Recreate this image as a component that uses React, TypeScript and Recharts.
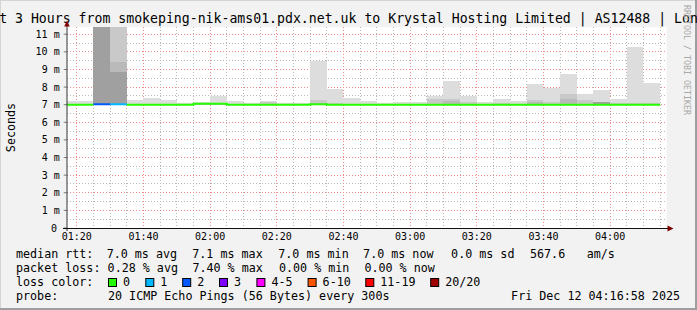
import React from "react";
import {
  ComposedChart,
  Area,
  Line,
  XAxis,
  YAxis,
} from "recharts";

// ---------------------------------------------------------------------------
// Data (5 minute steps, values in ms)
// ---------------------------------------------------------------------------

const rangeStart = "01:16:58";
const rangeEnd = "04:16:58";

const slotTimes = [
  "01:15", "01:20", "01:25", "01:30", "01:35", "01:40", "01:45", "01:50", "01:55",
  "02:00", "02:05", "02:10", "02:15", "02:20", "02:25", "02:30", "02:35", "02:40",
  "02:45", "02:50", "02:55", "03:00", "03:05", "03:10", "03:15", "03:20", "03:25",
  "03:30", "03:35", "03:40", "03:45", "03:50", "03:55", "04:00", "04:05", "04:10",
];
const slotEnd = "04:15";

// lowest ping of each step
const smokeMin = [
  6.97, 6.97, 6.97, 6.97, 6.97, 6.97, 6.97, 6.97, 6.99, 6.99, 6.97, 6.97,
  6.97, 6.97, 6.97, 6.97, 6.97, 6.97, 6.97, 6.97, 6.97, 6.97, 6.97, 6.97,
  6.97, 6.97, 6.97, 6.97, 6.97, 6.97, 6.97, 6.97, 6.97, 6.97, 6.97, 6.97,
];
// highest ping of each step (outer smoke)
const smokeOuter = [
  7.21, 7.21, 15, 14, 7.27, 7.36, 7.29, 7.11, 7.15, 7.5, 7.19, 7.07,
  7.19, 7.1, 7.1, 9.5, 7.89, 7.38, 7.21, 7.1, 7.14, 7.17, 7.5, 8.37,
  7.5, 7.15, 7.33, 7.21, 8.18, 7.97, 8.76, 7.6, 7.85, 7.34, 10.3, 8.25,
];
const smokeUpper = [
  7.05, 7.05, 15, 14, 7.05, 7.06, 7.05, 7.03, 7.08, 7.1, 7.05, 7.03,
  7.13, 7.06, 7.05, 7.27, 7.1, 7.06, 7.05, 7.03, 7.05, 7.06, 7.33, 7.33,
  7.15, 7.05, 7.08, 7.06, 7.27, 7.15, 7.6, 7.27, 7.17, 7.08, 7.12, 7.1,
];
const smokeInner = [
  7.02, 7.02, 15, 9.44, 7.02, 7.02, 7.02, 7.02, 7.06, 7.06, 7.02, 7.02,
  7.02, 7.02, 7.02, 7.12, 7.02, 7.02, 7.02, 7.02, 7.02, 7.02, 7.02, 7.2,
  7.02, 7.02, 7.02, 7.02, 7.15, 7.02, 7.3, 7.02, 7.17, 7.02, 7.02, 7.02,
];
const smokeCore = [
  7.0, 7.0, 15, 8.88, 7.0, 7.0, 7.0, 7.0, 7.0, 7.0, 7.0, 7.0,
  7.0, 7.0, 7.0, 7.0, 7.0, 7.0, 7.0, 7.0, 7.0, 7.0, 7.0, 7.0,
  7.0, 7.0, 7.0, 7.0, 7.0, 7.0, 7.0, 7.0, 7.14, 7.0, 7.0, 7.0,
];
const medianRtt = [
  7.0, 7.0, 7.03, 7.03, 7.0, 7.0, 7.0, 7.0, 7.06, 7.06, 7.0, 7.0,
  7.0, 7.0, 7.0, 7.02, 7.0, 7.0, 7.0, 7.0, 7.0, 7.0, 7.0, 7.0,
  7.0, 7.0, 7.0, 7.0, 7.0, 7.0, 7.0, 7.0, 7.0, 7.0, 7.0, 7.0,
];
const lossCount = [
  0, 0, 2, 1, 0, 0, 0, 0, 0, 0, 0, 0,
  0, 0, 0, 0, 0, 0, 0, 0, 0, 0, 0, 0,
  0, 0, 0, 0, 0, 0, 0, 0, 0, 0, 0, 0,
];

const xTickTimes = ["01:20", "01:40", "02:00", "02:20", "02:40", "03:00", "03:20", "03:40", "04:00"];
const minorGridTimes = [
  "01:25", "01:30", "01:35", "01:45", "01:50", "01:55", "02:05", "02:10", "02:15",
  "02:25", "02:30", "02:35", "02:45", "02:50", "02:55", "03:05", "03:10", "03:15",
  "03:25", "03:30", "03:35", "03:45", "03:50", "03:55", "04:05", "04:10", "04:15",
];
const yTickValues = [0, 1, 2, 3, 4, 5, 6, 7, 8, 9, 10, 11];
const majorGridY = [1, 2, 3, 4, 5, 6, 7, 8, 9, 10, 11];
const minorGridY = [0.5, 1.5, 2.5, 3.5, 4.5, 5.5, 6.5, 7.5, 8.5, 9.5, 10.5];
const yMax = 11.41;

const lossLabels = ["0", "1", "2", "3", "4-5", "6-10", "11-19", "20/20"];
const lossUpper = [0, 1, 2, 3, 5, 10, 19, 20];
const lossColors = ["#26ff00", "#00b8ff", "#0059ff", "#7e00ff", "#ff00ff", "#ff5500", "#ff0000", "#a10000"];

// ---------------------------------------------------------------------------
// Layout
// ---------------------------------------------------------------------------

const W = 697;
const H = 310;
const PLOT = { left: 66.7, top: 27, right: 666.7, bottom: 228 };
const BG = "#f2f2f2";
const MONO = "'DejaVu Sans Mono', monospace";
const MINOR_GRID = "#b8b8b8";
const MAJOR_GRID = "#ee8c8c";

const toMin = (s: string) => {
  const [h, m, sec] = s.split(":").map(Number);
  return h * 60 + m + (sec || 0) / 60;
};

const lossBucket = (n: number) => lossUpper.findIndex((u) => n <= u);

const T0 = toMin(rangeStart);
const T1 = toMin(rangeEnd);

// grid positions follow the same linear mapping as the chart axes
const gridX = (t: number) =>
  Math.floor(PLOT.left + ((t - T0) / (T1 - T0)) * (PLOT.right - PLOT.left)) + 0.5;
const gridY = (v: number) =>
  Math.floor(PLOT.bottom - (v / yMax) * (PLOT.bottom - PLOT.top)) + 0.5;

// ---------------------------------------------------------------------------
// Table for recharts
// ---------------------------------------------------------------------------

type Row = Record<string, number | number[] | null>;

const n = slotTimes.length;
const rows: Row[] = [...slotTimes, slotEnd].map((s, r) => {
  const i = Math.min(r, n - 1);
  const row: Row = {
    t: toMin(s),
    outer: [smokeMin[i], smokeOuter[i]],
    upper: [smokeMin[i], smokeUpper[i]],
    inner: [smokeMin[i], smokeInner[i]],
    core: [smokeMin[i], smokeCore[i]],
  };
  lossColors.forEach((_, b) => {
    let v: number | null = null;
    if (r < n && lossBucket(lossCount[r]) === b) v = medianRtt[r];
    else if (r > 0 && lossBucket(lossCount[r - 1]) === b) v = medianRtt[r - 1];
    row[`m${b}`] = v;
  });
  return row;
});

const usedBuckets = lossColors
  .map((_, b) => b)
  .filter((b) => lossCount.some((c) => lossBucket(c) === b));

const smokeLayers = [
  { key: "outer", color: "#dddddd" },
  { key: "upper", color: "#c9c9c9" },
  { key: "inner", color: "#bababa" },
  { key: "core", color: "#a0a0a0" },
];

// ---------------------------------------------------------------------------
// Ticks
// ---------------------------------------------------------------------------

function YTick({ x, y, payload }: { x?: number; y?: number; payload?: { value: number } }) {
  if (x === undefined || y === undefined || !payload) return null;
  const v = payload.value;
  return (
    <text
      x={v === 0 ? x - 2.6 : x}
      y={y}
      dy="0.355em"
      textAnchor="end"
      fontFamily={MONO}
      fontSize={10}
      fill="#000"
    >
      {v === 0 ? "0" : `${v} m`}
    </text>
  );
}

// ---------------------------------------------------------------------------
// Legend lines
// ---------------------------------------------------------------------------

const statsLine: [string, number][] = [
  ["median rtt:", 16],
  ["7.0 ms avg", 106.7],
  ["7.1 ms max", 192.3],
  ["7.0 ms min", 278.3],
  ["7.0 ms now", 363.1],
  ["0.0 ms sd", 451.1],
  ["567.6", 530],
  ["am/s", 586.7],
];
const lossLine: [string, number][] = [
  ["packet loss:", 16],
  ["0.28 % avg", 107.6],
  ["7.40 % max", 192.4],
  ["0.00 % min", 279],
  ["0.00 % now", 364.4],
];
const swatchX = [108, 145.3, 182.2, 219, 256.4, 307.6, 365.3, 430.2];

// canvas + dotted grid, under the chart
function Backdrop() {
  const hLine = (v: number, color: string) => (
    <line
      key={`h${v}`}
      x1={PLOT.left}
      x2={PLOT.right}
      y1={gridY(v)}
      y2={gridY(v)}
      stroke={color}
      strokeWidth={1}
      strokeDasharray="1 2"
      shapeRendering="crispEdges"
    />
  );
  const vLine = (t: number, color: string) => (
    <line
      key={`v${t}`}
      x1={gridX(t)}
      x2={gridX(t)}
      y1={PLOT.top}
      y2={PLOT.bottom}
      stroke={color}
      strokeWidth={1}
      strokeDasharray="1 2"
      shapeRendering="crispEdges"
    />
  );
  return (
    <svg width={W} height={H} style={{ position: "absolute", left: 0, top: 0 }}>
      <rect x={0} y={0} width={W} height={H} fill={BG} />
      <rect
        x={PLOT.left}
        y={PLOT.top}
        width={PLOT.right - PLOT.left}
        height={PLOT.bottom - PLOT.top}
        fill="#ffffff"
      />
      {minorGridY.map((v) => hLine(v, MINOR_GRID))}
      {minorGridTimes.map((s) => vLine(toMin(s), MINOR_GRID))}
      {majorGridY.map((v) => hLine(v, MAJOR_GRID))}
      {xTickTimes.map((s) => vLine(toMin(s), MAJOR_GRID))}
    </svg>
  );
}

function Overlay() {
  const legendFont = { fontFamily: MONO, fontSize: 11.7, fill: "#000" };
  return (
    <svg width={W} height={H} style={{ position: "absolute", left: 0, top: 0 }}>
      {/* frame */}
      <rect x={0} y={0} width={W} height={1} fill="#d4d4d4" />
      <rect x={0} y={0} width={1} height={H} fill="#d4d4d4" />
      <rect x={W - 2} y={0} width={2} height={H} fill="#9e9e9e" />
      <rect x={0} y={H - 2} width={W} height={2} fill="#9e9e9e" />

      {/* title */}
      <text x={W / 2} y={23} textAnchor="middle" fontFamily={MONO} fontSize={13.2} fill="#000">
        Last 3 Hours from smokeping-nik-ams01.pdx.net.uk to Krystal Hosting Limited | AS12488 | London
      </text>
      <text
        transform="translate(684,5) rotate(90)"
        fontFamily={MONO}
        fontSize={8.3}
        fill="#a8a8a8"
      >
        RRDTOOL / TOBI OETIKER
      </text>

      {/* vertical label */}
      <text
        transform={`translate(15,${(PLOT.top + PLOT.bottom) / 2}) rotate(-90)`}
        textAnchor="middle"
        fontFamily={MONO}
        fontSize={11.7}
        fill="#000"
      >
        Seconds
      </text>

      {/* axes with arrows */}
      <line x1={67} y1={PLOT.bottom + 3} x2={67} y2={22} stroke="#333" strokeWidth={1} />
      <line x1={63} y1={PLOT.bottom + 0.5} x2={670} y2={PLOT.bottom + 0.5} stroke="#111" strokeWidth={1} />
      <polygon points="64.2,26.5 69.7,26.5 67,20.5" fill="#7f0000" />
      <polygon points="667.5,225.5 667.5,231.5 673.5,228.5" fill="#7f0000" />

      {/* legend */}
      {statsLine.map(([s, x]) => (
        <text key={s + x} x={x} y={258} {...legendFont}>{s}</text>
      ))}
      {lossLine.map(([s, x]) => (
        <text key={s + x} x={x} y={272} {...legendFont}>{s}</text>
      ))}
      <text x={16} y={286} {...legendFont}>loss color:</text>
      {lossLabels.map((label, i) => (
        <g key={label}>
          <rect
            x={swatchX[i] + 0.5}
            y={278.5}
            width={8}
            height={8}
            fill={lossColors[i]}
            stroke="#000"
            strokeWidth={1}
          />
          <text x={swatchX[i] + 15} y={286} {...legendFont}>{label}</text>
        </g>
      ))}
      <text x={16} y={300} {...legendFont}>probe:</text>
      <text x={108} y={300} {...legendFont}>20 ICMP Echo Pings (56 Bytes) every 300s</text>
      <text x={680} y={300} textAnchor="end" {...legendFont}>Fri Dec 12 04:16:58 2025</text>
    </svg>
  );
}

// ---------------------------------------------------------------------------
// Chart
// ---------------------------------------------------------------------------

export default function App() {
  const xTicks = xTickTimes.map(toMin);
  return (
    <div
      style={{
        position: "absolute",
        left: 0,
        top: 0,
        width: W,
        height: H,
        overflow: "hidden",
      }}
    >
      <Backdrop />
      <div style={{ position: "absolute", left: 0, top: 0 }}>
        <ComposedChart
          width={W}
          height={H}
          data={rows}
          margin={{
            top: PLOT.top,
            left: PLOT.left - 1,
            right: W - PLOT.right,
            bottom: H - PLOT.bottom - 1,
          }}
        >
          <XAxis
            type="number"
            dataKey="t"
            domain={[T0, T1]}
            allowDataOverflow
            ticks={xTicks}
            interval={0}
            height={1}
            axisLine={false}
            tickLine={false}
            tickSize={3}
            tickMargin={2}
            tickFormatter={(v: number) => xTickTimes[xTicks.indexOf(v)] ?? ""}
            tick={{ fontFamily: MONO, fontSize: 10, fill: "#000" }}
          />
          <YAxis
            type="number"
            domain={[0, yMax]}
            allowDataOverflow
            ticks={yTickValues}
            interval={0}
            width={1}
            axisLine={false}
            tickLine={{ stroke: "#777" }}
            tickSize={3}
            tickMargin={4}
            tick={<YTick />}
          />

          {smokeLayers.map((l) => (
            <Area
              key={l.key}
              type="stepAfter"
              dataKey={l.key}
              stroke="none"
              fill={l.color}
              fillOpacity={1}
              shapeRendering="crispEdges"
              dot={false}
              activeDot={false}
              isAnimationActive={false}
            />
          ))}
          {usedBuckets.map((b) => (
            <Line
              key={b}
              type="stepAfter"
              dataKey={`m${b}`}
              stroke={lossColors[b]}
              strokeWidth={2}
              dot={false}
              activeDot={false}
              connectNulls={false}
              isAnimationActive={false}
            />
          ))}
        </ComposedChart>
      </div>
      <Overlay />
    </div>
  );
}
